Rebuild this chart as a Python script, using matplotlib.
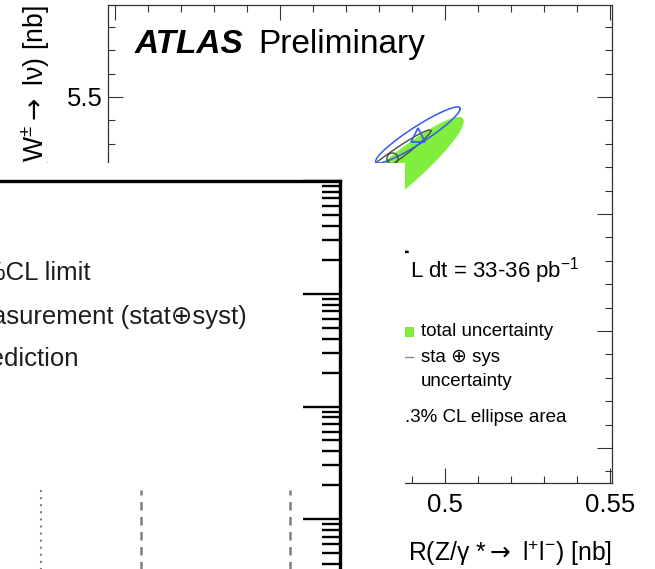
import numpy as np
import matplotlib
matplotlib.use('Agg')
import matplotlib.pyplot as plt
from matplotlib.ticker import MultipleLocator, FixedLocator, LogLocator, NullFormatter
from matplotlib.patches import Rectangle
from matplotlib.lines import Line2D

plt.rcParams['font.family'] = ['Liberation Sans', 'DejaVu Sans']
plt.rcParams['mathtext.fontset'] = 'dejavusans'

# ---------------- data ----------------
# ATLAS ellipse plot: centre (x, y), sigma (x, y), correlation
total_centre = (0.4839, 5.4308)
total_sigma = (0.0218, 0.0521)
total_rho = 0.93

stasys_centre = (0.4839, 5.4479)
stasys_sigma = (0.0118, 0.0239)
stasys_rho = 0.97

pred_centre = (0.4918, 5.4675)
pred_sigma = (0.0128, 0.0240)
pred_rho = 0.935

x_ticks = [0.40, 0.45, 0.50, 0.55]
x_tick_labels = ['0.4', '0.45', '0.5', '0.55']
y_ticks = [5.2, 5.3, 5.4, 5.5]
y_tick_labels = ['5.2', '5.3', '5.4', '5.5']
x_range = (0.39788, 0.55061)
y_range = (5.17009, 5.57863)

# overlaid limit plot (log scale)
limit_x = [0.407, 1.407, 2.90]
limit_styles = ['dotted', 'dashed', 'dashed']
limit_top = 1.8
log_range = (0.1, 1000.0)
overlay_legend = ['95%CL limit', 'Measurement (stat\u2295syst)', 'Prediction']

# ---------------- figure ----------------
W, H, DPI = 655, 569, 100
fig = plt.figure(figsize=(W / DPI, H / DPI), dpi=DPI)
renderer = fig.canvas.get_renderer()


def fx(px):
    return px / W


def fy(py):
    return 1 - py / H


GREEN = '#7fee3c'
BLUE = '#3558f2'
GREY = '#4a4a4a'
FRAME = '#333333'


def ellipse(c, s, rho, n=400):
    t = np.linspace(0, 2 * np.pi, n)
    x = c[0] + s[0] * np.cos(t)
    y = c[1] + s[1] * (rho * np.cos(t) + np.sqrt(1 - rho ** 2) * np.sin(t))
    return x, y


ax = fig.add_axes([fx(108), fy(483), (612 - 108) / W, (483 - 5) / H])
ax.set_xlim(*x_range)
ax.set_ylim(*y_range)

ex, ey = ellipse(total_centre, total_sigma, total_rho)
ax.fill(ex, ey, color=GREEN, lw=0, zorder=1)
ex, ey = ellipse(stasys_centre, stasys_sigma, stasys_rho)
ax.plot(ex, ey, color=GREY, lw=1.0, zorder=2)
ax.plot([stasys_centre[0]], [stasys_centre[1]], 'o', mfc='none', mec=GREY, ms=8, mew=1.0, zorder=3)
ex, ey = ellipse(pred_centre, pred_sigma, pred_rho)
ax.plot(ex, ey, color=BLUE, lw=1.1, zorder=2)
ax.plot([pred_centre[0]], [pred_centre[1]], '^', mfc='none', mec=BLUE, ms=10, mew=1.2, zorder=3)

ax.xaxis.set_major_locator(FixedLocator(x_ticks))
ax.set_xticklabels(x_tick_labels)
ax.xaxis.set_minor_locator(MultipleLocator(0.01))
ax.yaxis.set_major_locator(FixedLocator(y_ticks))
ax.set_yticklabels(y_tick_labels)
ax.yaxis.set_minor_locator(MultipleLocator(0.02))
ax.tick_params(which='both', direction='in', top=True, right=True, color=FRAME, width=0.8)
ax.tick_params(which='major', length=10.5)
ax.tick_params(which='minor', length=5.2)
ax.tick_params(axis='x', labelsize=18.5, pad=7.5)
ax.tick_params(axis='y', labelsize=18.5, pad=3.5)
for sp in ax.spines.values():
    sp.set_color(FRAME)
    sp.set_linewidth(0.9)

# ATLAS layer texts
fig.text(fx(135), fy(53), 'ATLAS', fontsize=24, fontweight='bold', style='italic', va='baseline', ha='left', zorder=3)
fig.text(fx(258), fy(53), 'Preliminary', fontsize=24, va='baseline', ha='left', zorder=3)
fig.text(fx(407), fy(277), '\u222b', fontsize=26, va='baseline', ha='right', zorder=3)
fig.text(fx(410), fy(278), 'L dt = 33-36 pb$^{\\mathregular{-1}}$', fontsize=16, va='baseline', ha='left', zorder=3)
fig.patches.append(Rectangle((fx(399), fy(337)), fx(414) - fx(399), fy(327) - fy(337),
                             transform=fig.transFigure, color=GREEN, lw=0, zorder=3))
fig.lines.append(Line2D([fx(396), fx(413)], [fy(357), fy(357)], transform=fig.transFigure,
                        color='#8a8a8a', lw=1.0, zorder=3))
fig.text(fx(421), fy(332), 'total uncertainty', fontsize=13.5, va='center', ha='left', zorder=3)
fig.text(fx(421), fy(357), 'sta \u2295 sys', fontsize=13.5, va='center', ha='left', zorder=3)
fig.text(fx(421), fy(381), 'uncertainty', fontsize=13.5, va='center', ha='left', zorder=3)
fig.text(fx(567), fy(417), '68.3% CL ellipse area', fontsize=13.5, va='center', ha='right', zorder=3)
fig.text(fx(612), fy(553), 'R(Z/\u03b3 *$\\rightarrow$ l$^{\\mathregular{+}}$l$^{\\mathregular{-}}$) [nb]',
         fontsize=17.8, va='center', ha='right', zorder=3)

# y title: place it so that its leading "R(" falls under the overlaid panel
YL_FS = 19.2
probe = fig.text(0, 0, 'R(', fontsize=YL_FS, rotation=90)
prefix_h = probe.get_window_extent(renderer).height
probe.remove()
fig.text(fx(36), fy(161.5 + prefix_h), 'R(W$^{\\mathregular{\u00b1}}$$\\rightarrow$ l\u03bd) [nb]', fontsize=YL_FS,
         rotation=90, va='bottom', ha='center', zorder=3)

# ---------------- overlaid panel ----------------
axp = fig.add_axes([0, 0, fx(405), (569 - 163) / H], zorder=10)
axp.set_facecolor('white')
axp.set_xticks([])
axp.set_yticks([])
for sp in axp.spines.values():
    sp.set_visible(False)

ax2 = fig.add_axes([fx(-60), fy(632), (340 + 60) / W, (632 - 181) / H], zorder=11)
ax2.set_facecolor('none')
ax2.set_yscale('log')
ax2.set_ylim(*log_range)
ax2.set_xlim(-0.6, 3.4)
ax2.set_xticks([])
ax2.yaxis.set_ticks_position('right')
ax2.yaxis.set_major_locator(LogLocator(base=10, numticks=10))
ax2.yaxis.set_minor_locator(LogLocator(base=10, subs=np.arange(2, 10), numticks=20))
ax2.yaxis.set_minor_formatter(NullFormatter())
ax2.tick_params(axis='y', which='both', direction='in', labelright=False, labelleft=False, color='black')
ax2.tick_params(axis='y', which='major', length=26.5, width=1.7)
ax2.tick_params(axis='y', which='minor', length=13, width=1.7)
for name, sp in ax2.spines.items():
    if name in ('top', 'right'):
        sp.set_linewidth(2.4)
        sp.set_color('black')
    else:
        sp.set_visible(False)

for xv, st in zip(limit_x, limit_styles):
    if st == 'dotted':
        ax2.plot([xv, xv], [log_range[0], limit_top], color='#808080', lw=1.5, linestyle=(0, (1, 2.4)))
    else:
        ax2.plot([xv, xv], [log_range[0], limit_top], color='#808080', lw=1.8, linestyle=(0, (3.4, 2.6)))

legend_right = [90, 247, 79]
legend_y = [273, 317, 359]
for txt, xr, yy in zip(overlay_legend, legend_right, legend_y):
    fig.text(fx(xr), fy(yy), txt, fontsize=18.5, va='center', ha='right', color='#1e1e1e', zorder=12)

fig.savefig('out.png', dpi=DPI)
